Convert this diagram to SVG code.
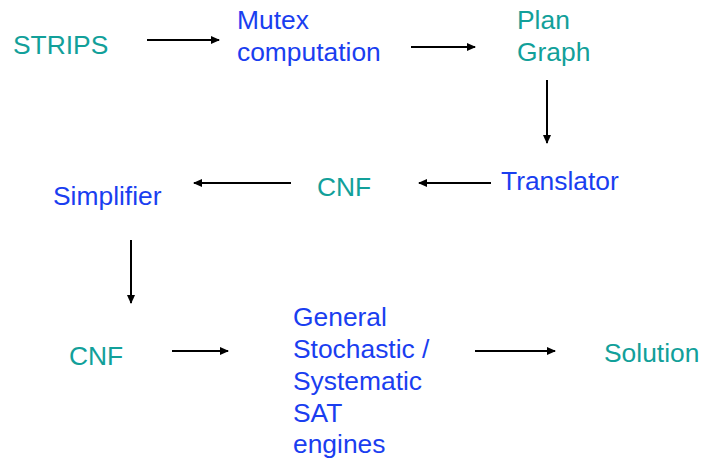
<svg xmlns="http://www.w3.org/2000/svg" width="704" height="460" viewBox="0 0 704 460">
<style>
text{font-family:"Liberation Sans",Arial,sans-serif;font-size:26.4px}
.t{fill:#12a09a}
.b{fill:#1a3ef0}
.c line{stroke:#000;stroke-width:2;marker-end:url(#ah)}
</style>
<defs>
<marker id="ah" markerWidth="10" markerHeight="8" refX="8" refY="4" orient="auto" markerUnits="userSpaceOnUse">
<path d="M0,0 L9,4 L0,8 Z" fill="#000"/>
</marker>
</defs>
<rect width="704" height="460" fill="#fff"/>
<g id="strips"><text class="t" x="13" y="54">STRIPS</text></g>
<g id="mutex"><text class="b" x="237" y="29">Mutex</text><text class="b" x="237" y="61">computation</text></g>
<g id="plangraph"><text class="t" x="517" y="29">Plan</text><text class="t" x="517" y="61">Graph</text></g>
<g id="translator"><text class="b" x="501" y="190">Translator</text></g>
<g id="cnf1"><text class="t" x="317" y="196">CNF</text></g>
<g id="simplifier"><text class="b" x="53" y="205">Simplifier</text></g>
<g id="cnf2"><text class="t" x="69" y="365">CNF</text></g>
<g id="sat"><text class="b" x="293" y="326">General</text><text class="b" x="293" y="358">Stochastic /</text><text class="b" x="293" y="390">Systematic</text><text class="b" x="293" y="422">SAT</text><text class="b" x="293" y="453">engines</text></g>
<g id="solution"><text class="t" x="604" y="362">Solution</text></g>
<g class="c" id="connectors">
<line x1="147" y1="40" x2="219" y2="40"/>
<line x1="411" y1="47" x2="475" y2="47"/>
<line x1="547" y1="80" x2="547" y2="143"/>
<line x1="491" y1="183" x2="419" y2="183"/>
<line x1="291" y1="183" x2="194" y2="183"/>
<line x1="131" y1="240" x2="131" y2="303"/>
<line x1="172" y1="351" x2="228" y2="351"/>
<line x1="475" y1="351" x2="555" y2="351"/>
</g>
</svg>
